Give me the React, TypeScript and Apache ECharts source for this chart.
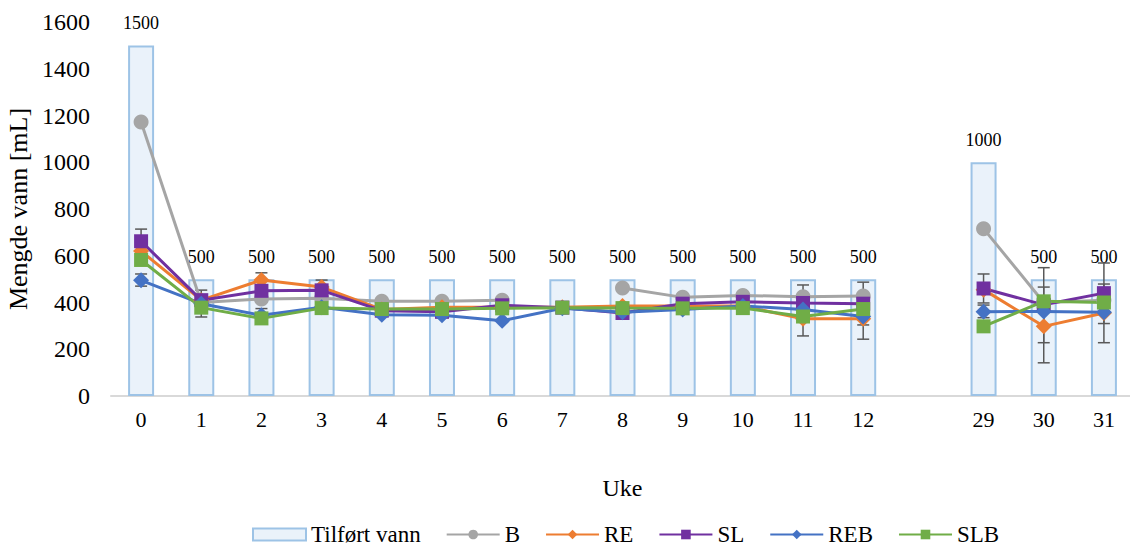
import React, { useEffect, useRef } from "react";
import * as echarts from "echarts";

const categories = ["0", "1", "2", "3", "4", "5", "6", "7", "8", "9", "10", "11", "12", "", "29", "30", "31"];
const tilfortVann = [1500, 500, 500, 500, 500, 500, 500, 500, 500, 500, 500, 500, 500, null, 1000, 500, 500];
const seriesB = [1172, 400, 415, 418, 405, 405, 410, null, 462, 422, 430, 425, 428, null, 716, 400, 410];
const seriesRE = [620, 410, 496, 466, 370, 380, 380, 380, 385, 385, 385, 330, 330, null, 455, 298, 355];
const seriesSL = [662, 410, 450, 452, 365, 360, 388, 378, 355, 395, 403, 398, 395, null, 460, 390, 440];
const seriesREB = [495, 395, 345, 380, 348, 345, 322, 375, 358, 370, 385, 370, 340, null, 360, 362, 358];
const seriesSLB = [582, 378, 332, 376, 372, 372, 375, 378, 376, 375, 376, 340, 372, null, 298, 405, 400];
// [category index, low, high]
const errorBars = [
  [0, 612, 714], [0, 470, 522], [1, 338, 453], [2, 465, 527], [2, 318, 374],
  [3, 436, 496], [7, 365, 392], [11, 257, 475], [12, 243, 487], [12, 304, 356],
  [14, 398, 522], [14, 335, 389], [15, 142, 549], [15, 228, 466], [16, 228, 569], [16, 310, 479],
];

const FONT = "Liberation Serif";

export default function App() {
  const ref = useRef<HTMLDivElement>(null);
  useEffect(() => {
    if (!ref.current) return;
    const chart = echarts.init(ref.current, undefined, { renderer: "svg" });
    const lineSeries = (name: string, data: (number | null)[], color: string, symbol: string, size: number) => ({
      name,
      type: "line",
      data,
      connectNulls: false,
      symbol,
      symbolSize: size,
      lineStyle: { color, width: 3 },
      itemStyle: { color },
      z: 4,
    });
    chart.setOption({
      animation: false,
      textStyle: { fontFamily: FONT, color: "#000" },
      grid: { left: 111, right: -4, top: 22, bottom: 153, containLabel: false, outerBoundsMode: "none" },
      xAxis: {
        type: "category",
        data: categories,
        axisLine: { lineStyle: { color: "#D9D9D9", width: 2 } },
        axisTick: { show: false },
        axisLabel: { fontSize: 22, color: "#000", fontFamily: FONT, margin: 12 },
        name: "Uke",
        nameLocation: "middle",
        nameGap: 80,
        nameTextStyle: { fontSize: 24, color: "#000", fontFamily: FONT },
      },
      yAxis: {
        type: "value",
        min: 0,
        max: 1600,
        interval: 200,
        splitLine: { show: false },
        axisLine: { show: false },
        axisLabel: { fontSize: 24, color: "#000", fontFamily: FONT, margin: 21, formatter: (v: number) => String(v) },
        name: "Mengde vann [mL]",
        nameLocation: "middle",
        nameGap: 80,
        nameTextStyle: { fontSize: 26, color: "#000", fontFamily: FONT },
      },
      legend: {
        top: 518,
        left: 247,
        itemWidth: 53,
        itemHeight: 12,
        itemGap: 25,
        textStyle: { fontSize: 23, color: "#000", fontFamily: FONT },
        data: [
          { name: "Tilført vann", icon: "rect" },
          "B", "RE", "SL", "REB", "SLB",
        ],
      },
      series: [
        {
          name: "Tilført vann",
          type: "bar",
          data: tilfortVann,
          barWidth: 26,
          itemStyle: { color: "#EAF2FA", borderColor: "#9DC3E6", borderWidth: 2 },
          label: { show: true, position: "top", distance: 13, fontSize: 18, color: "#000", fontFamily: FONT },
          z: 1,
        },
        {
          name: "err",
          type: "custom",
          data: errorBars,
          z: 3,
          renderItem: (params: any, api: any) => {
            const x = api.coord([api.value(0), 0])[0];
            const lo = api.coord([api.value(0), api.value(1)])[1];
            const hi = api.coord([api.value(0), api.value(2)])[1];
            const w = 6;
            const style = { stroke: "#595959", lineWidth: 1.5 };
            return {
              type: "group",
              children: [
                { type: "line", shape: { x1: x, y1: lo, x2: x, y2: hi }, style },
                { type: "line", shape: { x1: x - w, y1: lo, x2: x + w, y2: lo }, style },
                { type: "line", shape: { x1: x - w, y1: hi, x2: x + w, y2: hi }, style },
              ],
            };
          },
        },
        lineSeries("B", seriesB, "#A5A5A5", "circle", 15),
        lineSeries("RE", seriesRE, "#ED7D31", "diamond", 16),
        lineSeries("SL", seriesSL, "#7030A0", "rect", 14),
        lineSeries("REB", seriesREB, "#4472C4", "diamond", 16),
        lineSeries("SLB", seriesSLB, "#70AD47", "rect", 14),
      ],
    });
    return () => chart.dispose();
  }, []);
  return <div ref={ref} style={{ position: "fixed", left: 0, top: 0, width: 1130, height: 549, background: "#fff" }} />;
}
